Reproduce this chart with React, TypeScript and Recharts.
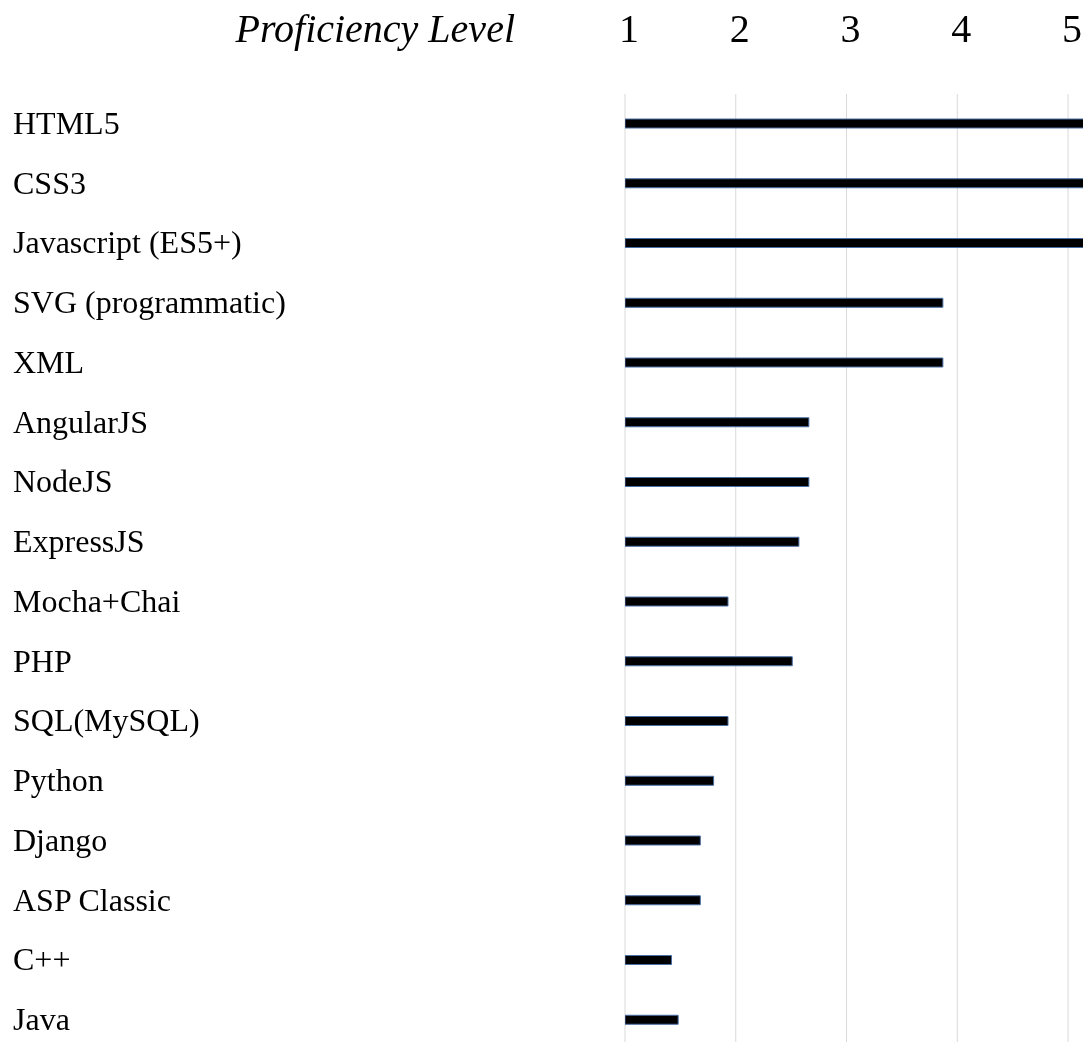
import { BarChart, Bar, XAxis, YAxis, CartesianGrid, Label } from 'recharts';

const skills = [
  'HTML5',
  'CSS3',
  'Javascript (ES5+)',
  'SVG (programmatic)',
  'XML',
  'AngularJS',
  'NodeJS',
  'ExpressJS',
  'Mocha+Chai',
  'PHP',
  'SQL(MySQL)',
  'Python',
  'Django',
  'ASP Classic',
  'C++',
  'Java',
];

// full bars run past the right edge of the chart
const levels = [5.2, 5.2, 5.2, 3.87, 3.87, 2.66, 2.66, 2.57, 1.93, 2.51, 1.93, 1.8, 1.68, 1.68, 1.42, 1.48];

const levelTicks = [1, 2, 3, 4, 5];

const data = skills.map((name, i) => ({ name, level: levels[i] }));

const FONT = '"Liberation Serif", "Times New Roman", serif';

const SkillTick = (props: any) => {
  const { y, payload } = props;
  return (
    <text x={13} y={y + 10} textAnchor="start" fontFamily={FONT} fontSize={32} fill="#000">
      {payload.value}
    </text>
  );
};

const LevelTick = (props: any) => {
  const { x, payload } = props;
  return (
    <text x={x + 4} y={42} textAnchor="middle" fontFamily={FONT} fontSize={40} fill="#000">
      {payload.value}
    </text>
  );
};

const TitleLabel = (props: any) => {
  const { viewBox } = props;
  return (
    <text
      x={viewBox.x - 110}
      y={42}
      textAnchor="end"
      fontFamily={FONT}
      fontStyle="italic"
      fontSize={40}
      fill="#000"
    >
      Proficiency Level
    </text>
  );
};

export default function App() {
  return (
    <div style={{ position: 'fixed', top: 0, left: 0, width: 1083, height: 1042, overflow: 'hidden' }}>
      <BarChart
        width={1083}
        height={1050}
        data={data}
        layout="vertical"
        margin={{ top: 8, right: 0, bottom: 0, left: 8 }}
        barCategoryGap={0}
      >
        <CartesianGrid horizontal={false} stroke="#d9d9d9" syncWithTicks />
        <XAxis
          type="number"
          orientation="top"
          domain={[1, 5.135]}
          allowDataOverflow
          ticks={levelTicks}
          height={86}
          axisLine={false}
          tickLine={false}
          tick={<LevelTick />}
          interval={0}
        >
          <Label content={<TitleLabel />} />
        </XAxis>
        <YAxis
          type="category"
          dataKey="name"
          width={617}
          axisLine={false}
          tickLine={false}
          tick={<SkillTick />}
          interval={0}
        />
        <Bar dataKey="level" fill="#000" stroke="#4a6fa5" strokeWidth={1} barSize={9} isAnimationActive={false} />
      </BarChart>
    </div>
  );
}
